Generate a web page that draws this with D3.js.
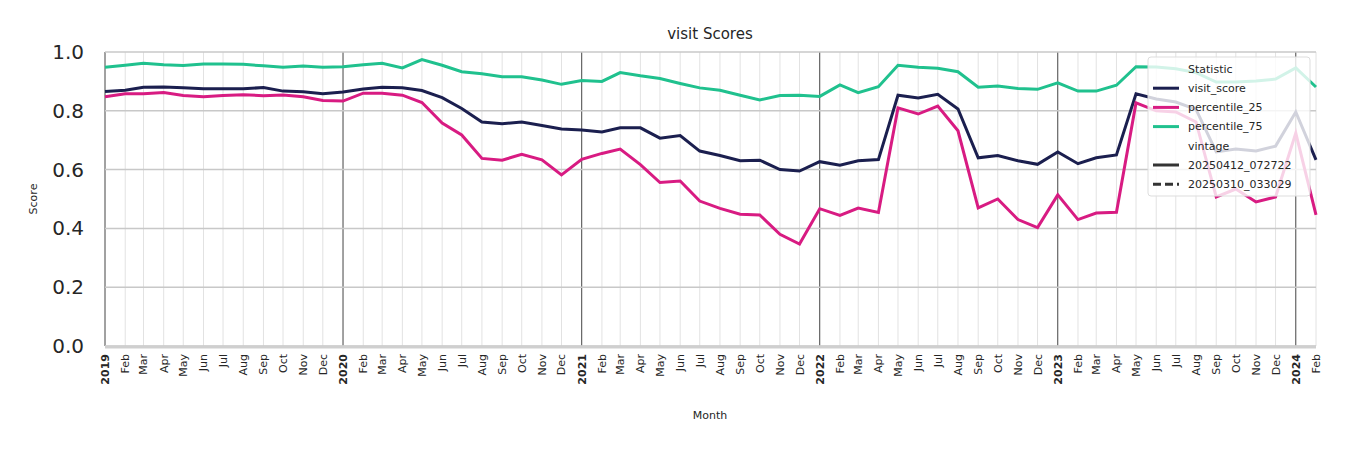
<!DOCTYPE html><html><head><meta charset="utf-8"><script src="https://cdn.jsdelivr.net/npm/d3@7"></script>
<style>body{margin:0;background:#fff;font-family:"DejaVu Sans",sans-serif}</style></head><body><svg id="c" width="1350" height="450"></svg><script>
const startMonth = "2019-01";
const visitScore = [.866,.870,.880,.881,.878,.875,.875,.875,.879,.867,.865,.858,
 .864,.874,.880,.878,.869,.845,.808,.762,.756,.762,.750,.738,
 .735,.728,.742,.742,.707,.716,.663,.648,.630,.632,.600,.595,
 .627,.615,.630,.634,.853,.844,.856,.806,.640,.648,.630,.618,
 .660,.620,.640,.650,.858,.840,.830,.805,.660,.670,.663,.680,
 .796,.633];
const pct25 = [.848,.858,.858,.862,.852,.848,.852,.855,.851,.854,.848,.835,
 .833,.860,.860,.853,.828,.758,.718,.638,.632,.652,.633,.582,
 .635,.655,.670,.617,.556,.561,.493,.468,.448,.446,.380,.347,
 .467,.444,.469,.454,.810,.789,.816,.732,.470,.500,.430,.403,
 .514,.430,.452,.455,.827,.800,.796,.762,.507,.534,.490,.507,
 .724,.446];
const pct75 = [.948,.955,.962,.957,.954,.959,.959,.958,.953,.948,.952,.948,
 .950,.957,.962,.946,.974,.955,.933,.926,.916,.916,.905,.890,
 .903,.900,.930,.919,.910,.893,.878,.870,.853,.837,.852,.853,
 .849,.888,.862,.882,.955,.948,.945,.933,.880,.884,.876,.873,
 .895,.867,.867,.887,.950,.949,.943,.930,.898,.898,.901,.908,
 .946,.881];
const seriesNames = ["visit_score","percentile_25","percentile_75"];
const seriesColors = ["#1b1f4f","#d81b82","#20c18e"];
const vintages = ["20250412_072722","20250310_033029"];
const yTicks = [0,0.2,0.4,0.6,0.8,1.0];

const months = visitScore.map((_,i)=>new Date(2019,i,1));
const svg = d3.select("#c");
const L=105,R=1316,T=52,B=346;
const x = d3.scaleTime().domain([months[0],months[months.length-1]]).range([L,R]);
const y = d3.scaleLinear().domain([0,1]).range([B,T]);
const g = svg.append("g");
// month grid
g.selectAll(".mg").data(months).join("line").attr("x1",d=>x(d)).attr("x2",d=>x(d)).attr("y1",T).attr("y2",B)
 .attr("stroke",d=>d.getMonth()===0?"#444":"#e2e2e2").attr("stroke-width",1);
g.selectAll(".hg").data(yTicks).join("line").attr("x1",L).attr("x2",R).attr("y1",d=>y(d)).attr("y2",d=>y(d))
 .attr("stroke","#c8c8c8").attr("stroke-width",1.5);
g.append("line").attr("x1",L).attr("x2",R).attr("y1",B+1).attr("y2",B+1).attr("stroke","#cfcfcf").attr("stroke-width",3);
// y labels
g.selectAll(".yl").data(yTicks).join("text").attr("x",L-21).attr("y",d=>y(d)).attr("dy","0.35em").attr("text-anchor","end")
 .attr("font-size",20).attr("fill","#262626").text(d3.format(".1f"));
// x labels
const fmt=d3.timeFormat("%b");
g.selectAll(".xl").data(months).join("text")
 .attr("transform",d=>`translate(${x(d)+4},${B+8}) rotate(-90)`).attr("text-anchor","end")
 .attr("font-size",11).attr("font-weight",d=>d.getMonth()===0?"bold":"normal").attr("fill","#262626")
 .text(d=>d.getMonth()===0?d.getFullYear():fmt(d));
svg.append("text").attr("x",710).attr("y",39).attr("text-anchor","middle").attr("font-size",15).attr("fill","#262626").text("visit Scores");
svg.append("text").attr("x",710).attr("y",419).attr("text-anchor","middle").attr("font-size",11).attr("fill","#262626").text("Month");
svg.append("text").attr("transform","translate(37,199) rotate(-90)").attr("text-anchor","middle").attr("font-size",11).attr("fill","#262626").text("Score");
// lines
const data=[visitScore,pct25,pct75];
const line=d3.line().x((d,i)=>x(months[i])).y(d=>y(d));
[2,0,1].forEach(k=>svg.append("path").attr("d",line(data[k])).attr("fill","none").attr("stroke",seriesColors[k]).attr("stroke-width",3));
// legend
const lg=svg.append("g").attr("transform","translate(1148,57)");
lg.append("rect").attr("width",162).attr("height",139).attr("rx",3).attr("fill","rgba(255,255,255,0.8)").attr("stroke","#ddd");
const items=[{t:"Statistic",h:true},...seriesNames.map((n,i)=>({t:n,c:seriesColors[i]})),{t:"vintage",h:true},
 {t:vintages[0],c:"#333"},{t:vintages[1],c:"#333",dash:true}];
items.forEach((it,i)=>{const yy=12+i*19.2;
 if(!it.h) lg.append("line").attr("x1",5).attr("x2",31).attr("y1",yy).attr("y2",yy).attr("stroke",it.c).attr("stroke-width",3).attr("stroke-dasharray",it.dash?"8,4":null);
 lg.append("text").attr("x",40).attr("y",yy).attr("dy","0.35em").attr("font-size",11).attr("fill","#262626").text(it.t);});
</script></body></html>
